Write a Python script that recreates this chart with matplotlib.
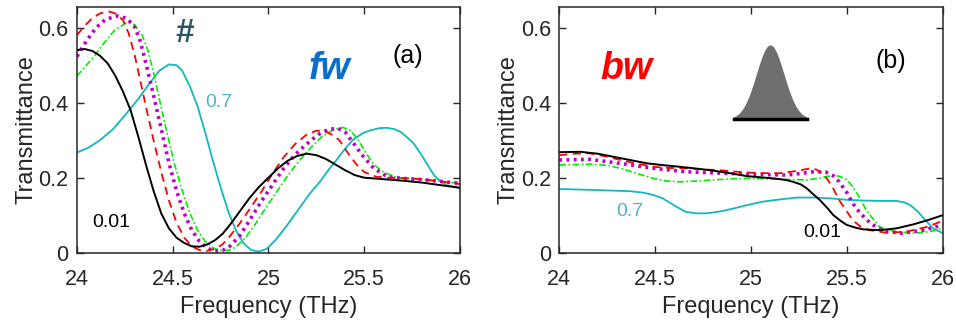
import numpy as np
import matplotlib
matplotlib.use("Agg")
import matplotlib.pyplot as plt

plt.rcParams['font.family'] = ['Liberation Sans', 'DejaVu Sans']

# ---- panel (a): forward transmittance ----
fa_black = [24.0, 24.04, 24.08, 24.12, 24.16, 24.20, 24.24, 24.28, 24.32, 24.36, 24.40, 24.44,
            24.48, 24.52, 24.56, 24.60, 24.64, 24.68, 24.72, 24.76, 24.80, 24.85, 24.90, 24.95,
            25.00, 25.05, 25.10, 25.15, 25.20, 25.25, 25.30, 25.35, 25.40, 25.45, 25.50, 25.60,
            25.70, 25.80, 25.90, 26.0]
ta_black = [0.540, 0.543, 0.538, 0.525, 0.505, 0.472, 0.430, 0.380, 0.310, 0.235, 0.165, 0.105,
            0.065, 0.040, 0.026, 0.017, 0.016, 0.022, 0.033, 0.050, 0.075, 0.110, 0.145, 0.175,
            0.200, 0.225, 0.245, 0.258, 0.264, 0.260, 0.250, 0.235, 0.220, 0.207, 0.200, 0.196,
            0.192, 0.187, 0.180, 0.173]

fa_red = [24.0, 24.04, 24.08, 24.12, 24.165, 24.20, 24.24, 24.27, 24.30, 24.33, 24.36, 24.40,
          24.44, 24.48, 24.52, 24.56, 24.60, 24.64, 24.68, 24.72, 24.76, 24.80, 24.85, 24.90,
          24.96, 25.02, 25.08, 25.14, 25.20, 25.25, 25.29, 25.33, 25.37, 25.42, 25.46, 25.50,
          25.56, 25.62, 25.70, 25.80, 25.90, 26.0]
ta_red = [0.580, 0.605, 0.625, 0.638, 0.643, 0.638, 0.620, 0.585, 0.530, 0.460, 0.390, 0.300,
          0.215, 0.140, 0.080, 0.040, 0.017, 0.007, 0.005, 0.010, 0.022, 0.045, 0.078, 0.115,
          0.160, 0.210, 0.255, 0.290, 0.315, 0.325, 0.325, 0.315, 0.300, 0.262, 0.235, 0.215,
          0.203, 0.200, 0.199, 0.196, 0.190, 0.183]

fa_mag = [24.0, 24.05, 24.10, 24.15, 24.21, 24.26, 24.30, 24.33, 24.36, 24.40, 24.44, 24.48,
          24.52, 24.56, 24.60, 24.64, 24.68, 24.72, 24.76, 24.80, 24.85, 24.90, 24.96, 25.02,
          25.08, 25.14, 25.20, 25.26, 25.31, 25.36, 25.40, 25.44, 25.49, 25.55, 25.62, 25.70,
          25.80, 25.90, 26.0]
ta_mag = [0.523, 0.565, 0.600, 0.622, 0.631, 0.625, 0.603, 0.565, 0.505, 0.420, 0.330, 0.240,
          0.165, 0.105, 0.060, 0.030, 0.012, 0.004, 0.006, 0.018, 0.045, 0.085, 0.135, 0.180,
          0.225, 0.262, 0.290, 0.315, 0.328, 0.332, 0.322, 0.295, 0.260, 0.225, 0.203, 0.198,
          0.195, 0.190, 0.185]

fa_grn = [24.0, 24.05, 24.10, 24.15, 24.20, 24.26, 24.30, 24.34, 24.37, 24.40, 24.43, 24.47,
          24.51, 24.55, 24.59, 24.63, 24.67, 24.71, 24.75, 24.79, 24.83, 24.88, 24.93, 24.98,
          25.04, 25.10, 25.16, 25.22, 25.28, 25.34, 25.39, 25.43, 25.47, 25.51, 25.55, 25.60,
          25.67, 25.77, 25.90, 26.0]
ta_grn = [0.471, 0.500, 0.530, 0.565, 0.595, 0.613, 0.608, 0.580, 0.540, 0.480, 0.410, 0.320,
          0.235, 0.165, 0.105, 0.060, 0.030, 0.013, 0.006, 0.006, 0.015, 0.040, 0.075, 0.115,
          0.160, 0.205, 0.245, 0.280, 0.310, 0.328, 0.334, 0.325, 0.300, 0.265, 0.235, 0.215,
          0.200, 0.197, 0.190, 0.185]

fa_cyan = [24.0, 24.06, 24.12, 24.19, 24.26, 24.32, 24.38, 24.43, 24.48, 24.52, 24.55, 24.59,
           24.63, 24.67, 24.71, 24.75, 24.79, 24.83, 24.87, 24.91, 24.95, 24.99, 25.04, 25.10,
           25.17, 25.22, 25.27, 25.32, 25.36, 25.40, 25.44, 25.49, 25.53, 25.58, 25.62, 25.66,
           25.69, 25.73, 25.76, 25.80, 25.83, 25.86, 25.88, 25.93, 25.98, 26.0]
ta_cyan = [0.267, 0.280, 0.300, 0.330, 0.372, 0.410, 0.452, 0.485, 0.502, 0.500, 0.485, 0.443,
           0.390, 0.320, 0.245, 0.175, 0.110, 0.060, 0.025, 0.007, 0.003, 0.010, 0.035, 0.075,
           0.125, 0.160, 0.190, 0.225, 0.250, 0.277, 0.300, 0.318, 0.326, 0.332, 0.333, 0.329,
           0.322, 0.305, 0.290, 0.260, 0.235, 0.210, 0.198, 0.180, 0.175, 0.172]

# ---- panel (b): backward transmittance ----
fb_black = [24.0, 24.11, 24.20, 24.28, 24.37, 24.46, 24.55, 24.63, 24.72, 24.80, 24.89, 24.98,
            25.05, 25.12, 25.18, 25.22, 25.26, 25.29, 25.32, 25.36, 25.40, 25.43, 25.47, 25.50,
            25.55, 25.59, 25.67, 25.76, 25.85, 25.93, 26.0]
tb_black = [0.268, 0.269, 0.264, 0.256, 0.247, 0.238, 0.233, 0.229, 0.224, 0.219, 0.212, 0.204,
            0.201, 0.198, 0.194, 0.189, 0.182, 0.172, 0.158, 0.140, 0.118, 0.100, 0.084, 0.074,
            0.066, 0.062, 0.060, 0.065, 0.076, 0.088, 0.100]

fb_red = [24.0, 24.08, 24.16, 24.24, 24.32, 24.40, 24.49, 24.57, 24.66, 24.75, 24.84, 24.92,
          25.01, 25.08, 25.15, 25.21, 25.26, 25.30, 25.34, 25.37, 25.40, 25.43, 25.46, 25.50,
          25.53, 25.57, 25.62, 25.71, 25.81, 25.92, 26.0]
tb_red = [0.260, 0.264, 0.265, 0.257, 0.247, 0.238, 0.229, 0.226, 0.225, 0.222, 0.220, 0.216,
          0.213, 0.212, 0.212, 0.216, 0.220, 0.224, 0.222, 0.212, 0.195, 0.170, 0.140, 0.110,
          0.087, 0.070, 0.060, 0.053, 0.056, 0.069, 0.085]

fb_mag = [24.0, 24.16, 24.32, 24.49, 24.66, 24.84, 25.01, 25.19, 25.27, 25.33, 25.39, 25.43,
          25.46, 25.50, 25.53, 25.57, 25.62, 25.66, 25.71, 25.79, 25.90, 26.0]
tb_mag = [0.247, 0.249, 0.238, 0.225, 0.216, 0.212, 0.209, 0.207, 0.212, 0.216, 0.215, 0.205,
          0.189, 0.160, 0.132, 0.105, 0.080, 0.066, 0.056, 0.052, 0.060, 0.074]

fb_grn = [24.0, 24.16, 24.25, 24.32, 24.40, 24.49, 24.56, 24.63, 24.72, 24.80, 24.90, 24.98,
          25.15, 25.29, 25.35, 25.39, 25.43, 25.46, 25.50, 25.53, 25.57, 25.60, 25.64, 25.67,
          25.72, 25.76, 25.85, 25.93, 26.0]
tb_grn = [0.234, 0.236, 0.233, 0.225, 0.212, 0.198, 0.191, 0.189, 0.191, 0.194, 0.197, 0.198,
          0.196, 0.194, 0.198, 0.203, 0.205, 0.204, 0.195, 0.176, 0.145, 0.114, 0.088, 0.069,
          0.060, 0.056, 0.052, 0.056, 0.065]

fb_cyan = [24.0, 24.19, 24.37, 24.44, 24.49, 24.54, 24.58, 24.62, 24.66, 24.71, 24.77, 24.84,
           24.91, 24.98, 25.06, 25.15, 25.24, 25.33, 25.41, 25.50, 25.59, 25.68, 25.76, 25.80,
           25.83, 25.87, 25.90, 25.95, 26.0]
tb_cyan = [0.170, 0.167, 0.164, 0.160, 0.154, 0.145, 0.132, 0.120, 0.109, 0.105, 0.105, 0.110,
           0.118, 0.127, 0.136, 0.142, 0.147, 0.147, 0.145, 0.141, 0.139, 0.138, 0.138, 0.134,
           0.127, 0.110, 0.092, 0.065, 0.052]

xticks = [24, 24.5, 25, 25.5, 26]
xticklabels = ['24', '24.5', '25', '25.5', '26']
yticks = [0, 0.2, 0.4, 0.6]
yticklabels = ['0', '0.2', '0.4', '0.6']

# pulse icon in panel (b)
pulse_center = 25.1
pulse_sigma = 0.072
pulse_base = 0.356
pulse_height = 0.198
pulse_halfwidth = 0.19

RED = '#ff0000'
MAG = '#c000c8'
GRN = '#00ee00'
CYAN = '#10b8c0'
TXT = '#262626'


def draw_curves(ax, black, red, mag, grn, cyan):
    ax.plot(*cyan, color=CYAN, lw=1.3)
    ax.plot(*grn, color=GRN, lw=1.2, ls=(0, (4, 1.5, 1, 1.5)))
    ax.plot(*mag, color=MAG, lw=2.6, ls=(0, (0.8, 1.2)))
    ax.plot(*red, color=RED, lw=1.3, ls=(0, (4.5, 3)))
    ax.plot(*black, color='black', lw=1.4)


def style_axes(ax):
    ax.set_xlim(24, 26)
    ax.set_ylim(0, 0.655)
    ax.set_xticks(xticks)
    ax.set_xticklabels(xticklabels)
    ax.set_yticks(yticks)
    ax.set_yticklabels(yticklabels)
    ax.tick_params(direction='in', top=True, right=True, length=5, width=1,
                   labelsize=15.5, colors=TXT)
    ax.tick_params(axis='x', pad=12)
    ax.tick_params(axis='y', pad=6)
    for s in ax.spines.values():
        s.set_linewidth(1.1)
        s.set_color(TXT)
    ax.set_xlabel('Frequency (THz)', fontsize=17, color=TXT, labelpad=4)
    ax.set_ylabel('Transmittance', fontsize=17, color=TXT, labelpad=1)


fig = plt.figure(figsize=(9.56, 3.27), dpi=100)
ax1 = fig.add_axes([0.0805, 0.2272, 0.4006, 0.7514])
ax2 = fig.add_axes([0.5850, 0.2272, 0.4011, 0.7514])

draw_curves(ax1, (fa_black, ta_black), (fa_red, ta_red), (fa_mag, ta_mag),
            (fa_grn, ta_grn), (fa_cyan, ta_cyan))
draw_curves(ax2, (fb_black, tb_black), (fb_red, tb_red), (fb_mag, tb_mag),
            (fb_grn, tb_grn), (fb_cyan, tb_cyan))
style_axes(ax1)
style_axes(ax2)

# annotations panel (a)
ax1.text(24.56, 0.585, '#', fontsize=24, fontweight='bold', color='#2a5565',
         ha='center', va='center')
ax1.text(25.32, 0.49, 'fw', fontsize=27, fontweight='bold', style='italic',
         color='#0a6ecc', ha='center', va='center')
ax1.text(25.73, 0.525, '(a)', fontsize=18, color='black', ha='center', va='center')
ax1.text(24.74, 0.40, '0.7', fontsize=14, color='#4fb3cc', ha='center', va='center')
ax1.text(24.18, 0.08, '0.01', fontsize=14, color='black', ha='center', va='center')

# annotations panel (b)
ax2.text(24.35, 0.49, 'bw', fontsize=27, fontweight='bold', style='italic',
         color=RED, ha='center', va='center')
ax2.text(25.73, 0.51, '(b)', fontsize=18, color='black', ha='center', va='center')
ax2.text(24.37, 0.11, '0.7', fontsize=14, color='#4fb3cc', ha='center', va='center')
ax2.text(25.37, 0.053, '0.01', fontsize=14, color='black', ha='center', va='center')

px = np.linspace(pulse_center - pulse_halfwidth, pulse_center + pulse_halfwidth, 120)
py = pulse_base + pulse_height * np.exp(-0.5 * ((px - pulse_center) / pulse_sigma) ** 2)
ax2.fill_between(px, pulse_base, py, color='#6e6e6e', lw=0)
ax2.plot([px[0], px[-1]], [pulse_base, pulse_base], color='black', lw=2.5)

fig.savefig('out.png', dpi=100)
